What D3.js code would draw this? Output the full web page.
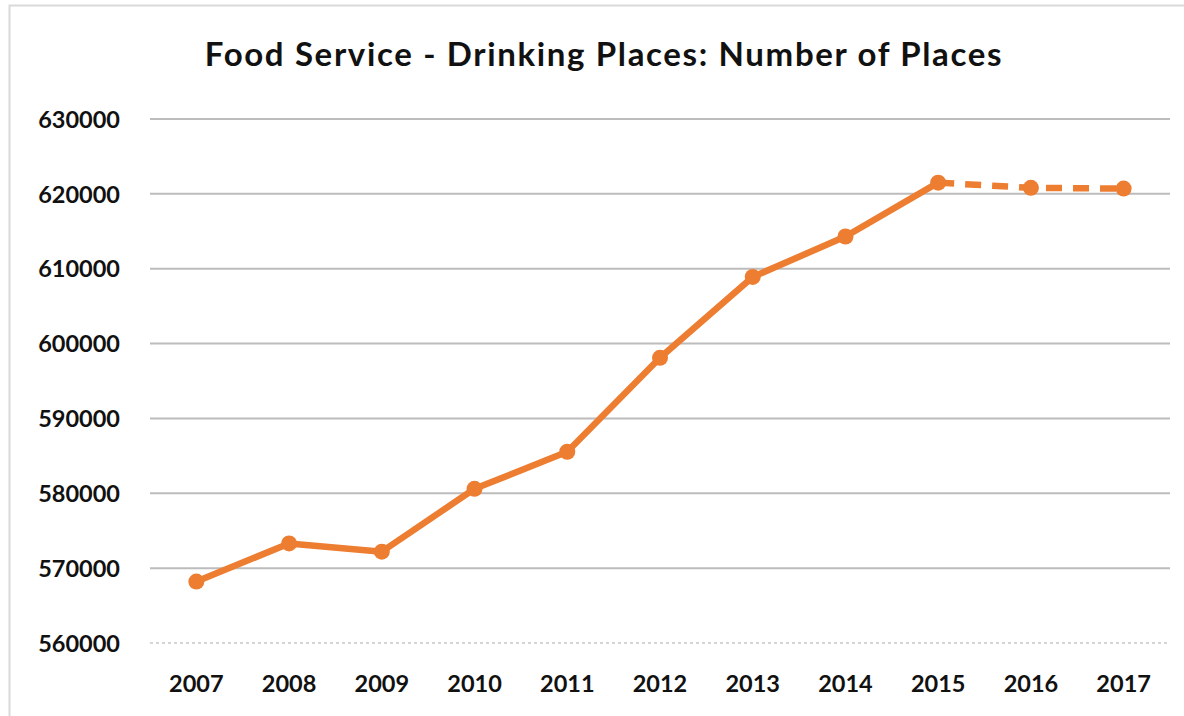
<!DOCTYPE html>
<html>
<head>
<meta charset="utf-8">
<script src="https://cdn.jsdelivr.net/npm/d3@7"></script>
<style>
body { margin: 0; background: #fff; }
text { font-family: Lato, "Open Sans", sans-serif; fill: #111; }
#title { font-size: 33px; font-weight: bold; letter-spacing: 1.65px; }
.tick text { font-size: 23.5px; font-weight: bold; }
</style>
</head>
<body>
<svg id="chart"></svg>
<script>
const W = 1184, H = 716;
const margin = {top: 119, right: 14, bottom: 73, left: 150};
const width = W - margin.left - margin.right,
      height = H - margin.top - margin.bottom;

// data
const years = ['2007','2008','2009','2010','2011','2012','2013','2014','2015','2016','2017'];
const places = [568200, 573300, 572200, 580600, 585550, 598100, 608900, 614300, 621500, 620800, 620700];
const yTicks = [560000, 570000, 580000, 590000, 600000, 610000, 620000, 630000];
const lastActual = '2015'; // after this the line is dashed (forecast)

const data = years.map((y, i) => ({year: y, value: places[i]}));
const cut = years.indexOf(lastActual);

const svg = d3.select('#chart')
  .attr('width', W)
  .attr('height', H);

// chart frame
svg.append('rect')
  .attr('x', 9.5).attr('y', 5.5)
  .attr('width', W + 20).attr('height', H + 20)
  .attr('fill', 'none')
  .attr('stroke', '#d9d9d9')
  .attr('stroke-width', 2);

const chart = svg.append('g')
  .attr('transform', `translate(${margin.left},${margin.top})`);

const x = d3.scaleBand().domain(years).range([0, width]);
const y = d3.scaleLinear().domain([560000, 630000]).range([height, 0]);

const cx = d => x(d.year) + x.bandwidth() / 2;

// gridlines
chart.append('g')
  .selectAll('line')
  .data(yTicks)
  .enter().append('line')
  .attr('x1', 0).attr('x2', width)
  .attr('y1', d => y(d)).attr('y2', d => y(d))
  .attr('stroke', d => d === 560000 ? '#c8c8c8' : '#bcbcbc')
  .attr('stroke-width', d => d === 560000 ? 1.5 : 2)
  .attr('stroke-dasharray', d => d === 560000 ? '3,3' : null);

// y axis labels
const yAxis = chart.append('g')
  .call(d3.axisLeft(y).tickValues(yTicks).tickFormat(d3.format('d')).tickSize(0).tickPadding(30));
yAxis.select('.domain').remove();
yAxis.selectAll('.tick text').attr('dy', '0.35em');

// x axis labels
const xAxis = chart.append('g')
  .attr('transform', `translate(0,${height})`)
  .call(d3.axisBottom(x).tickSize(0).tickPadding(32));
xAxis.select('.domain').remove();

const line = d3.line().x(cx).y(d => y(d.value));
const orange = '#ed7d31';

chart.append('path')
  .datum(data.slice(0, cut + 1))
  .attr('d', line)
  .attr('fill', 'none')
  .attr('stroke', orange)
  .attr('stroke-width', 6.5)
  .attr('stroke-linejoin', 'round');

chart.append('path')
  .datum(data.slice(cut))
  .attr('d', line)
  .attr('fill', 'none')
  .attr('stroke', orange)
  .attr('stroke-width', 6.5)
  .attr('stroke-dasharray', '16,11');

chart.selectAll('.dot')
  .data(data)
  .enter().append('circle')
  .attr('class', 'dot')
  .attr('cx', cx)
  .attr('cy', d => y(d.value))
  .attr('r', 8)
  .attr('fill', orange);

svg.append('text')
  .attr('id', 'title')
  .attr('x', 604)
  .attr('y', 66)
  .attr('text-anchor', 'middle')
  .text('Food Service - Drinking Places: Number of Places');
</script>
</body>
</html>
